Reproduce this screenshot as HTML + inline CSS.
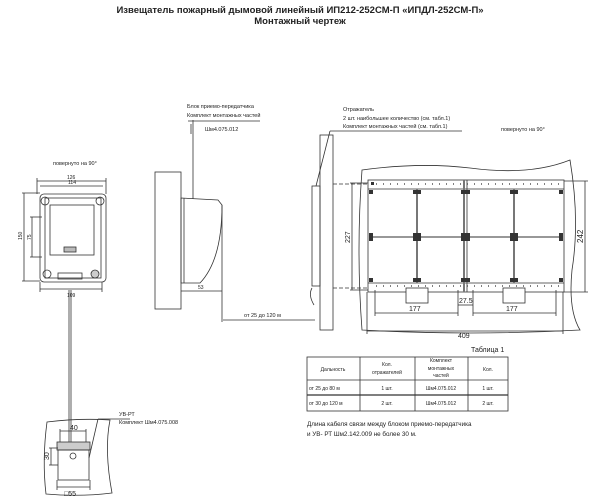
<!DOCTYPE html><html><head><meta charset="utf-8"><style>body{margin:0;background:#fff}svg{display:block}text{font-family:"Liberation Sans",sans-serif;fill:#222}</style></head><body>
<svg width="600" height="504" viewBox="0 0 600 504" xmlns="http://www.w3.org/2000/svg">
<g font-weight="bold" font-size="9.5" text-anchor="middle"><text x="300" y="13">Извещатель  пожарный дымовой линейный ИП212-252СМ-П  «ИПДЛ-252СМ-П»</text><text x="300" y="24">Монтажный чертеж</text></g>
<g fill="none" stroke="#333" stroke-width="0.8">
<!-- left unit -->
<rect x="40" y="194" width="66" height="88" rx="4"/><rect x="45" y="198" width="56" height="80"/><rect x="50" y="205" width="44" height="50"/>
<circle cx="45" cy="201" r="4"/><circle cx="100" cy="201" r="4"/><circle cx="47" cy="274" r="4"/><circle cx="95" cy="274" r="4" fill="#ccc"/>
<rect x="58" y="273" width="24" height="6"/><rect x="64" y="247" width="12" height="5" fill="#bbb"/>
<line x1="37" y1="181" x2="106" y2="181"/><line x1="40" y1="186" x2="103" y2="186"/><line x1="40" y1="289" x2="102" y2="289"/>
<line x1="37" y1="178" x2="37" y2="194"/><line x1="106" y1="178" x2="106" y2="194"/><line x1="40" y1="282" x2="40" y2="292"/><line x1="102" y1="282" x2="102" y2="292"/>
<line x1="24" y1="193" x2="24" y2="281"/><line x1="22" y1="193" x2="40" y2="193"/><line x1="22" y1="281" x2="40" y2="281"/>
<line x1="32" y1="217" x2="32" y2="257"/><line x1="30" y1="217" x2="42" y2="217"/><line x1="30" y1="257" x2="42" y2="257"/>
<line x1="69" y1="290" x2="69" y2="445"/><line x1="71" y1="290" x2="71" y2="445"/>
<!-- side unit -->
<rect x="155" y="172" width="26" height="137"/>
<path d="M181 198 L218 200 L222 205 Q222 260 200 283 L181 283 Z"/><line x1="184" y1="198" x2="184" y2="283"/>
<line x1="181" y1="291" x2="222" y2="291"/><line x1="222" y1="205" x2="222" y2="322"/>
<line x1="193" y1="120" x2="193" y2="199"/><line x1="188" y1="121" x2="260" y2="121"/><line x1="191" y1="124" x2="191" y2="134"/>
<line x1="223" y1="320" x2="315" y2="320"/>
<!-- reflector side -->
<rect x="320" y="135" width="13" height="195"/><rect x="312" y="186" width="8" height="100"/>
<path d="M312 288 Q308 295 314 305"/>
<line x1="330" y1="131" x2="462" y2="131"/><line x1="330" y1="131" x2="316" y2="186"/>
<line x1="333" y1="184" x2="368" y2="184" stroke-dasharray="4 2"/><line x1="333" y1="288" x2="368" y2="288" stroke-dasharray="4 2"/>
<!-- big panel -->
<path d="M362 170 Q420 162 470 168 Q530 176 570 160 Q580 220 572 270 Q568 310 580 330 Q470 336 362 330 Q356 250 362 170 Z"/>
<rect x="368" y="180" width="196" height="112"/><line x1="368" y1="189" x2="564" y2="189"/><line x1="368" y1="283" x2="564" y2="283"/>
<line x1="370" y1="237" x2="562" y2="237" stroke-width="1.5" stroke="#777"/>
<line x1="417" y1="189" x2="417" y2="283" stroke-width="2" stroke="#777"/><line x1="464" y1="180" x2="464" y2="292" stroke-width="2" stroke="#777"/><line x1="467" y1="180" x2="467" y2="292"/><line x1="514" y1="189" x2="514" y2="283" stroke-width="2" stroke="#777"/>
<rect x="406" y="288" width="22" height="15" fill="#fff"/><rect x="503" y="288" width="22" height="15" fill="#fff"/>
<line x1="352" y1="183" x2="352" y2="290"/><line x1="350" y1="183" x2="368" y2="183"/><line x1="350" y1="290" x2="368" y2="290"/>
<line x1="585" y1="181" x2="585" y2="292"/><line x1="564" y1="181" x2="588" y2="181"/><line x1="564" y1="292" x2="588" y2="292"/>
<line x1="375" y1="313" x2="458" y2="313"/><line x1="473" y1="313" x2="556" y2="313"/><line x1="458" y1="305" x2="473" y2="305"/>
<line x1="375" y1="290" x2="375" y2="316"/><line x1="458" y1="290" x2="458" y2="316"/><line x1="473" y1="290" x2="473" y2="316"/><line x1="556" y1="290" x2="556" y2="316"/>
<line x1="367" y1="331" x2="563" y2="331"/><line x1="367" y1="292" x2="367" y2="334"/><line x1="563" y1="292" x2="563" y2="334"/>
<!-- table -->
<rect x="307" y="357" width="201" height="54"/><line x1="307" y1="380" x2="508" y2="380"/><line x1="307" y1="395" x2="508" y2="395" stroke-width="1.2"/>
<line x1="360" y1="357" x2="360" y2="411"/><line x1="415" y1="357" x2="415" y2="411"/><line x1="468" y1="357" x2="468" y2="411"/>
<!-- УВ-РТ -->
<path d="M47 422 Q80 418 110 420 Q104 450 112 493 Q80 497 46 494 Q42 460 47 422 Z"/>
<rect x="57" y="442" width="33" height="8" fill="#ccc"/><rect x="58" y="450" width="31" height="30"/><circle cx="73" cy="456" r="3"/>
<line x1="60" y1="431" x2="86" y2="431"/><line x1="60" y1="429" x2="60" y2="442"/><line x1="86" y1="429" x2="86" y2="442"/>
<line x1="51" y1="448" x2="51" y2="465"/><line x1="49" y1="448" x2="58" y2="448"/><line x1="49" y1="465" x2="58" y2="465"/>
<line x1="57" y1="487" x2="90" y2="487"/><line x1="57" y1="480" x2="57" y2="490"/><line x1="90" y1="480" x2="90" y2="490"/>
<line x1="98" y1="419" x2="130" y2="419"/><line x1="98" y1="419" x2="89" y2="458"/>
</g>
<g fill="#333"><g id="t"><rect x="371" y="182" width="3" height="3"/></g>
<path d="M376 184h186" stroke="#555" stroke-width="1.5" stroke-dasharray="1 6"/><path d="M376 286h186" stroke="#555" stroke-width="1.5" stroke-dasharray="1 6"/>
<rect x="369" y="190" width="4" height="4"/><rect x="369" y="233" width="4" height="8"/><rect x="369" y="278" width="4" height="4"/>
<rect x="413" y="190" width="8" height="4"/><rect x="413" y="233" width="8" height="8"/><rect x="413" y="278" width="8" height="4"/>
<rect x="461" y="190" width="9" height="4"/><rect x="461" y="233" width="9" height="8"/><rect x="461" y="278" width="9" height="4"/>
<rect x="510" y="190" width="8" height="4"/><rect x="510" y="233" width="8" height="8"/><rect x="510" y="278" width="8" height="4"/>
<rect x="559" y="190" width="4" height="4"/><rect x="559" y="233" width="4" height="8"/><rect x="559" y="278" width="4" height="4"/>
</g>
<g font-size="5.5">
<text x="53" y="165">повернуто на 90°</text><text x="67" y="179" font-size="5">126</text><text x="68" y="184" font-size="5">114</text><text x="67" y="297" font-size="5">109</text>
<text transform="translate(22 240) rotate(-90)" font-size="5">150</text><text transform="translate(31 240) rotate(-90)" font-size="5">75</text>
<text x="187" y="108">Блок приемо-передатчика</text><text x="187" y="117">Комплект монтажных частей</text><text x="205" y="131">Шм4.075.012</text>
<text x="198" y="289" font-size="5">53</text><text x="244" y="317">от 25  до 120  м</text>
<text x="343" y="111">Отражатель</text><text x="343" y="120">2 шт. наибольшее количество (см. табл.1)</text><text x="343" y="128">Комплект монтажных частей (см. табл.1)</text>
<text x="501" y="131">повернуто на 90°</text>
<text transform="translate(350 243) rotate(-90)" font-size="7">227</text><text transform="translate(583 243) rotate(-90)" font-size="8">242</text>
<text x="409" y="311" font-size="7">177</text><text x="506" y="311" font-size="7">177</text><text x="459" y="303" font-size="7">27.5</text><text x="458" y="338" font-size="7">409</text>
<text x="471" y="352" font-size="7">Таблица 1</text>
<g font-size="5" text-anchor="middle"><text x="333" y="371">Дальность</text><text x="387" y="366">Кол.</text><text x="387" y="374">отражателей</text><text x="441" y="362">Комплект</text><text x="441" y="370">монтажных</text><text x="441" y="377">частей</text><text x="488" y="371">Кол.</text>
<text x="387" y="390">1 шт.</text><text x="441" y="390">Шм4.075.012</text><text x="488" y="390">1 шт.</text><text x="387" y="405">2 шт.</text><text x="441" y="405">Шм4.075.012</text><text x="488" y="405">2 шт.</text></g>
<text x="309" y="390" font-size="5">от 25 до 80 м</text><text x="309" y="405" font-size="5">от 30 до 120 м</text>
<text x="307" y="426" font-size="6.3">Длина кабеля связи между блоком приемо-передатчика</text><text x="307" y="436" font-size="6.3">и УВ- РТ  Шм2.142.009 не более 30 м.</text>
<text x="119" y="416">УВ-РТ</text><text x="119" y="424">Комплект Шм4.075.008</text>
<text x="70" y="430" font-size="7">40</text><text transform="translate(49 460) rotate(-90)" font-size="7">30</text><text x="64" y="496" font-size="7">□55</text>
</g>
</svg></body></html>
